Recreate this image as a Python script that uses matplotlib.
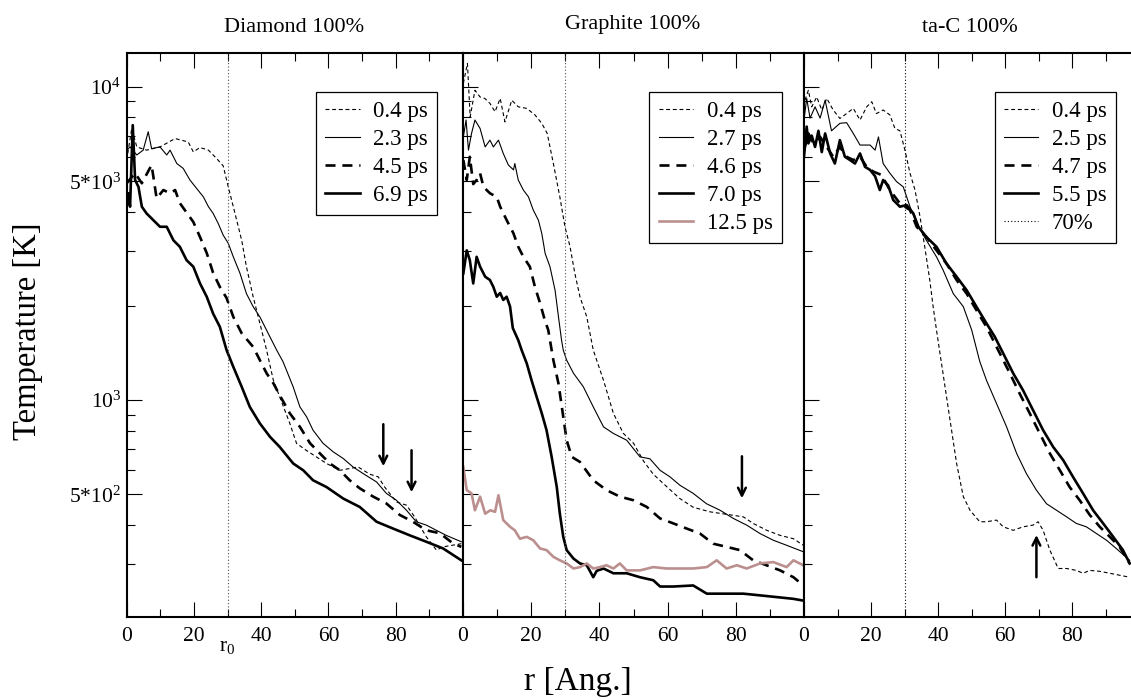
import matplotlib
matplotlib.use("Agg")
import matplotlib.pyplot as plt
from matplotlib.ticker import FixedLocator, FixedFormatter, MultipleLocator, NullFormatter

plt.rcParams['font.family'] = ['Liberation Serif', 'DejaVu Serif']

# ---- Diamond 100% ----
d04_r = [0, 1.5, 3, 5.9, 9.9, 14.4, 18.3, 19.8, 21.8, 24.3, 26.7, 28.7, 30.2, 31.7, 34.2, 35.6, 37.6, 39.6, 41.6, 43.6,
         45.5, 48.5, 50.5, 53, 56.4, 59.4, 63.4, 66.3, 68.8, 72.3, 74.8, 76.7, 80.2, 83.2, 85.6, 89.1, 92.1, 94.1, 99.5]
d04_T = [5850, 7380, 6440, 6290, 6440, 6850, 6680, 6210, 6410, 6290, 5920, 5600, 4800, 4150, 3240, 2670, 2140, 1760, 1445, 1158,
         1025, 843, 728, 696, 659, 628, 597, 605, 612, 580, 569, 528, 473, 462, 424, 366, 332, 340, 348]
d23_r = [0, 1, 3, 4.9, 6.4, 7.4, 9.9, 11.9, 12.9, 14.9, 16.8, 18.8, 20.8, 22.8, 24.3, 25.7, 27.2, 28.7, 30.2, 31.7,
         33.7, 35.6, 37.6, 39.6, 42.6, 44.6, 46.5, 49.5, 51.5, 53.5, 55.4, 58.4, 61.4, 64.4, 67.3, 70.3, 74.3, 77.2, 80.2, 83.2,
         86.1, 89.1, 92.1, 95, 99.5]
d23_T = [6290, 6440, 6070, 6290, 7200, 6360, 6440, 6070, 6290, 5700, 5500, 5050, 4745, 4460, 4150, 3950, 3670, 3365, 3170, 2870,
         2540, 2190, 1990, 1845, 1593, 1445, 1326, 1103, 952, 885, 802, 728, 684, 651, 612, 583, 548, 504, 479, 445,
         409, 399, 384, 370, 353]
d45_r = [0, 2.5, 4.5, 7.4, 8.9, 10.9, 12.9, 14.4, 15.8, 19.8, 21.8, 23.8, 25.7, 27.7, 29.7, 31.7, 34.2, 37.6, 39.6, 41.6,
         43.6, 45.5, 48.5, 51.5, 54.5, 57.4, 60.4, 63.4, 66.3, 69.3, 73.3, 77.2, 81.2, 85.1, 89.1, 93.1, 97, 99.5]
d45_T = [4930, 5310, 4930, 5640, 4410, 4690, 4580, 4690, 4260, 3710, 3320, 2950, 2550, 2300, 2120, 1845, 1635, 1480, 1342, 1219,
         1133, 1037, 908, 822, 729, 677, 628, 597, 555, 523, 492, 468, 430, 409, 384, 376, 349, 340]
d69_r = [0, 0.5, 1.0, 1.8, 2.5, 3.5, 4.5, 5.9, 7.9, 9.9, 11.9, 13.9, 15.8, 17.8, 19.8, 21.8, 23.8, 25.7, 27.7, 29.7,
         31.7, 34.2, 36.6, 39.6, 42.6, 45.5, 49.5, 52.5, 55.4, 59.4, 64.4, 69.3, 74.3, 79.2, 84.2, 89.1, 94.1, 99.5]
d69_T = [4150, 4580, 4150, 7560, 5050, 4800, 4150, 3950, 3760, 3580, 3580, 3240, 3090, 2800, 2670, 2360, 2140, 1890, 1715, 1445,
         1278, 1103, 952, 843, 764, 709, 628, 597, 555, 528, 485, 456, 409, 389, 370, 353, 336, 308]

# ---- Graphite 100% ----
g04_r = [0.1, 1.3, 2.1, 3.5, 5, 6.4, 7.9, 9.4, 10.9, 12.3, 14.3, 16.2, 18.7, 21.1, 23.1, 24.7, 26.5, 28.4, 29.9, 31.4,
         32.8, 34.3, 36.3, 38.2, 41.2, 44.1, 47, 50, 52.9, 55.8, 59.7, 63.6, 67.5, 72.4, 77.3, 82.2, 85.1, 89.1, 93, 96.9, 99.8]
g04_T = [10280, 11910, 8030, 9770, 9300, 9200, 8870, 8340, 9200, 7740, 9080, 8650, 8550, 8150, 7660, 7110, 5700, 4460, 3580, 3090,
         2540, 2140, 1845, 1445, 1158, 908, 784, 729, 640, 580, 530, 485, 455, 440, 432, 424, 404, 384, 370, 361, 344]
g27_r = [0.1, 0.9, 1.6, 2.5, 3.5, 5, 6.5, 7.9, 8.9, 10.4, 11.8, 13.3, 14.8, 15.2, 16.2, 17.7, 19.2, 20.6, 22.1, 23.1,
         24.1, 25.5, 27, 28, 28.9, 29.4, 30.4, 32.4, 35.3, 38.2, 41.2, 44.1, 48, 51.9, 54.8, 57.8, 60.7, 63.6, 67.5, 71.4,
         75.4, 79.3, 83.2, 87.1, 91, 94.9, 99.8]
g27_T = [6930, 7850, 6290, 7110, 7850, 7380, 6440, 6770, 6440, 6770, 6140, 5640, 5440, 5700, 5050, 4690, 4460, 4050, 3760, 3410,
         2940, 2670, 2245, 1845, 1555, 1445, 1342, 1219, 1103, 952, 822, 783, 745, 659, 650, 597, 569, 535, 504, 467,
         445, 419, 399, 375, 357, 344, 328]
g46_r = [0.1, 1.1, 2, 3, 4, 5, 6, 7.9, 9.9, 10.9, 12.8, 14.8, 16.2, 17.7, 19.6, 21.1, 22.6, 24, 25, 26.5,
         28, 29.4, 30.4, 31.9, 34.3, 38.2, 42.1, 46, 50, 53.9, 57.8, 61.7, 65.6, 69.5, 73.4, 77.3, 81.2, 85.1, 89, 93,
         96.9, 99.8]
g46_T = [5850, 5050, 5990, 4900, 5050, 5310, 4800, 4580, 4460, 4150, 3760, 3410, 3090, 2870, 2670, 2300, 2040, 1800, 1675, 1342,
         1130, 885, 745, 659, 635, 555, 516, 492, 479, 456, 419, 404, 389, 375, 348, 340, 332, 308, 297, 286,
         272, 256]
g70_r = [0.1, 1.1, 2, 3, 4, 5, 6.5, 7.9, 8.9, 9.9, 10.9, 11.8, 12.8, 13.8, 14.6, 16.2, 17.2, 18.7, 20.1, 21.6,
         23.1, 24.5, 26, 27.5, 28.4, 29.4, 30.4, 32.4, 34.3, 36.3, 38.2, 39.2, 41.2, 44.1, 48, 51.9, 55.8, 57.8, 61.7, 67.5,
         71.5, 77.3, 82.2, 87.1, 92, 96.9, 99.8]
g70_T = [2540, 3010, 2800, 2360, 2870, 2670, 2480, 2420, 2300, 2140, 2200, 2090, 2140, 1990, 1700, 1555, 1445, 1310, 1158, 1025,
         908, 802, 659, 528, 434, 366, 332, 312, 301, 297, 272, 285, 290, 280, 280, 272, 266, 254, 254, 256,
         241, 241, 241, 238, 235, 232, 229]
g125_r = [0.1, 1.1, 2.5, 3.5, 5, 6.5, 8, 9.4, 10.4, 11.8, 13.8, 15.2, 16.7, 18.7, 20.6, 22.6, 24.5, 26.5, 28.4, 30.4,
          32.4, 34.3, 36.3, 38.2, 40.2, 42.1, 44.1, 46, 48, 51.9, 55.8, 59.7, 63.6, 67.5, 71.5, 74.4, 77.3, 80.3, 83.2, 87.1,
          91, 94.9, 96.9, 99.8]
g125_T = [612, 516, 504, 445, 492, 434, 445, 440, 497, 414, 394, 384, 361, 366, 357, 336, 332, 316, 308, 301,
          290, 293, 301, 290, 293, 297, 290, 301, 286, 286, 293, 290, 290, 290, 293, 308, 290, 297, 290, 301,
          304, 293, 308, 297]

# ---- ta-C 100% ----
t04_r = [0.3, 1.3, 2.3, 3.8, 5.3, 6.8, 8.7, 10.7, 12.7, 14.7, 16.7, 18.7, 20.2, 21.6, 23.6, 25.6, 27.1, 28.6, 30.1, 31.6,
         33.1, 34.6, 36, 37.5, 38.5, 39.5, 41, 42.5, 44, 45.5, 47.5, 49.5, 52.4, 54.4, 57.4, 59.4, 62.4, 65.3, 68.3, 69.8,
         71.3, 73.3, 75.8, 78.3, 81.2, 83.2, 85.2, 88.2, 91.2, 94.1, 97.1]
t04_T = [9080, 9770, 8650, 9300, 8450, 9200, 8450, 7940, 8230, 8550, 7850, 8650, 8980, 8230, 8450, 8150, 7380, 7250, 6290, 5310,
         4690, 3850, 3090, 2420, 1990, 1675, 1310, 1025, 802, 628, 492, 445, 409, 409, 414, 394, 384, 394, 399, 409,
         384, 332, 290, 290, 286, 280, 286, 284, 280, 276, 272]
t25_r = [0, 0.8, 1.8, 3.3, 4.8, 6.3, 8.2, 10.7, 12.7, 14.7, 16.7, 19.7, 21.2, 22.2, 23.6, 25.6, 27.6, 29.6, 31.6, 33.6,
         36.5, 39.5, 41.5, 44.5, 47.5, 50, 52.4, 54.4, 57.4, 60.4, 63.4, 66.3, 69.3, 72.3, 75.3, 78.3, 81.2, 84.2, 87.2, 90.2,
         93.1, 97.1]
t25_T = [7850, 9200, 7960, 8650, 7960, 9080, 7250, 7660, 7700, 7110, 6530, 6530, 6290, 6930, 5700, 5310, 4990, 4800, 4150, 3670,
         3240, 2870, 2600, 2190, 1990, 1675, 1330, 1158, 976, 822, 676, 583, 516, 467, 445, 424, 404, 394, 375, 357,
         336, 308]
t47_r = [0, 1.3, 2.8, 4.8, 6.8, 8.7, 10.7, 12.7, 14.7, 16.7, 18.7, 20.7, 23.1, 25.6, 28.6, 31.6, 33.6, 36.5, 39.5, 42.5,
         45.5, 48.5, 51.4, 54.4, 58.4, 61.4, 64.3, 67.3, 70.3, 73.3, 76.3, 79.2, 82.2, 85.2, 88.2, 91.2, 94.1, 97.1]
t47_T = [6290, 7110, 6610, 6930, 6440, 5990, 6440, 5990, 5850, 5990, 5560, 5370, 5240, 4690, 4250, 4050, 3580, 3320, 3010, 2730,
         2420, 2190, 1940, 1715, 1410, 1217, 1050, 908, 783, 676, 597, 528, 479, 430, 394, 366, 340, 301]
t55_r = [0, 0.8, 1.3, 2.3, 3.3, 4.3, 5.3, 6.3, 7.8, 9.2, 10.7, 12.2, 13.7, 15.2, 16.7, 18.2, 19.7, 21.2, 22.6, 23.6,
         25.1, 26.6, 28.6, 30.6, 32.6, 34.1, 36.5, 39.5, 42.5, 45.5, 48.5, 51.4, 54.4, 56.9, 59.4, 62.4, 65.3, 68.3, 71.3, 74.3,
         77.3, 80.2, 83.2, 86.2, 89.2, 92.2, 95.1, 97.1]
t55_T = [5990, 7480, 6610, 7000, 6440, 7250, 6200, 7110, 6140, 5700, 6770, 5990, 5850, 5700, 6140, 5560, 5440, 5190, 4690, 5050,
         4850, 4360, 4150, 4200, 3950, 3580, 3320, 3090, 2730, 2480, 2245, 1990, 1760, 1593, 1410, 1217, 1076, 929, 802, 709,
         643, 569, 504, 445, 404, 366, 332, 301]

titles = ["Diamond 100%", "Graphite 100%", "ta-C 100%"]
r0 = 30
y_major = [500, 1000, 5000, 10000]
y_major_labels = [r"$\mathregular{5{*}10^2}$", r"$\mathregular{10^3}$", r"$\mathregular{5{*}10^3}$", r"$\mathregular{10^4}$"]
y_minor = [200, 300, 400, 600, 700, 800, 900, 2000, 3000, 4000, 6000, 7000, 8000, 9000]
x_ticks = [0, 20, 40, 60, 80]

# arrows: (r, T tail, T head)
arrows = [
    [(76.3, 838, 615), (84.7, 692, 508)],
    [(81.8, 662, 486)],
    [(69.3, 272, 371)],
]

thin_dash = dict(color='k', lw=0.8, ls=(0, (3.5, 2.5)))
thin = dict(color='k', lw=0.8)
thick_dash = dict(color='k', lw=1.9, ls=(0, (3.8, 2.6)))
thick = dict(color='k', lw=1.9)
brown = dict(color='#bc8f8f', lw=1.9)

panels = [
    [(d04_r, d04_T, "0.4 ps", thin_dash), (d23_r, d23_T, "2.3 ps", thin),
     (d45_r, d45_T, "4.5 ps", thick_dash), (d69_r, d69_T, "6.9 ps", thick)],
    [(g04_r, g04_T, "0.4 ps", thin_dash), (g27_r, g27_T, "2.7 ps", thin),
     (g46_r, g46_T, "4.6 ps", thick_dash), (g70_r, g70_T, "7.0 ps", thick),
     (g125_r, g125_T, "12.5 ps", brown)],
    [(t04_r, t04_T, "0.4 ps", thin_dash), (t25_r, t25_T, "2.5 ps", thin),
     (t47_r, t47_T, "4.7 ps", thick_dash), (t55_r, t55_T, "5.5 ps", thick)],
]

W, H = 1131, 700
fig = plt.figure(figsize=(W / 100, H / 100), dpi=100)
bounds = [(126.7, 463), (463, 804), (804, 1131)]
xmax = [100, 100, 97.5]
legend_right = [0.924, 0.935, 0.954]
title_pos = [(294, 27), (633, 24), (970, 28)]

axes = []
for i in range(3):
    x0, x1 = bounds[i]
    ax = fig.add_axes([x0 / W, 1 - 617 / H, (x1 - x0) / W, (617 - 53) / H])
    axes.append(ax)
    for r, T, lab, st in panels[i]:
        ax.plot(r, T, label=lab, **st)
    if i == 2:
        ax.axvline(r0, color='k', lw=0.8, ls=(0, (1, 2)), label="70%")
    else:
        ax.axvline(r0, color='0.3', lw=0.8, ls=(0, (1, 2)))

    ax.set_yscale('log')
    ax.set_ylim(203, 12850)
    ax.set_xlim(0, xmax[i])
    ax.yaxis.set_major_locator(FixedLocator(y_major))
    ax.yaxis.set_minor_locator(FixedLocator(y_minor))
    ax.yaxis.set_minor_formatter(NullFormatter())
    if i == 0:
        ax.yaxis.set_major_formatter(FixedFormatter(y_major_labels))
    else:
        ax.yaxis.set_major_formatter(NullFormatter())
    ax.xaxis.set_major_locator(FixedLocator(x_ticks))
    ax.xaxis.set_minor_locator(MultipleLocator(10))
    ax.tick_params(which='both', direction='in', top=True, right=False, width=0.8, labelsize=15.5)
    ax.tick_params(which='major', length=11)
    ax.tick_params(axis='x', which='major', pad=7)
    ax.tick_params(axis='y', which='major', pad=4)
    ax.tick_params(which='minor', length=5.5)
    for sp in ax.spines.values():
        sp.set_linewidth(1.5)
    if i == 2:
        ax.spines['right'].set_visible(False)

    for (xa, ya, yb) in arrows[i]:
        ax.annotate('', xy=(xa, yb), xytext=(xa, ya),
                    arrowprops=dict(arrowstyle='->', lw=1.8, color='k', mutation_scale=14,
                                    shrinkA=0, shrinkB=0))

    leg = ax.legend(loc='upper right', bbox_to_anchor=(legend_right[i], 0.931), fontsize=16.5,
                    handlelength=1.5, handletextpad=0.6, labelspacing=0.3, borderpad=0.4,
                    borderaxespad=0, fancybox=False, framealpha=1, edgecolor='k')
    leg.get_frame().set_linewidth(0.9)

    tx, ty = title_pos[i]
    fig.text(tx / W, 1 - ty / H, titles[i], ha='center', va='center', fontsize=16)

axes[0].text(r0, -0.053, r"$\mathregular{r_0}$", transform=axes[0].get_xaxis_transform(),
             ha='center', va='center', fontsize=15.5)

fig.text(28 / W, 1 - 331 / H, "Temperature [K]", rotation=90, ha='center', va='center', fontsize=23.5)
fig.text(578 / W, 1 - 682 / H, "r [Ang.]", ha='center', va='center', fontsize=24)

fig.savefig("out.png", dpi=100)
